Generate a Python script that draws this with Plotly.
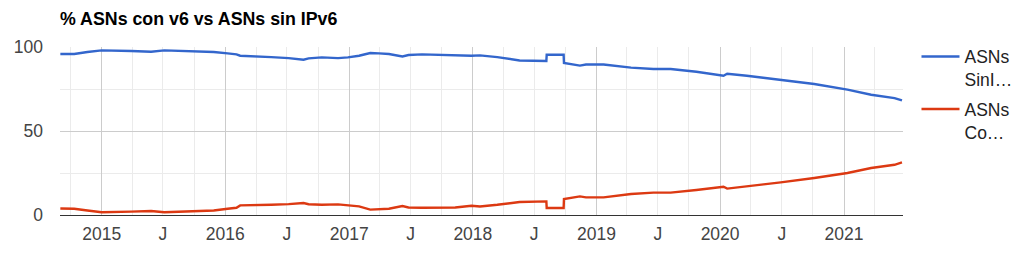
import plotly.graph_objects as go

dates_sin = ["2014-09-01","2014-10-12","2014-11-20","2015-01-01","2015-03-29","2015-05-27","2015-07-05",
             "2015-10-01","2015-11-28","2016-01-08","2016-02-03","2016-02-14","2016-03-29","2016-05-16",
             "2016-07-06","2016-08-19","2016-09-03","2016-10-12","2016-11-29","2016-12-28","2017-01-30",
             "2017-03-04","2017-03-30","2017-04-28","2017-06-07","2017-06-25","2017-08-04","2017-09-20",
             "2017-11-10","2017-12-28","2018-01-22","2018-03-14","2018-05-19","2018-08-06","2018-08-07",
             "2018-09-26","2018-09-27","2018-11-13","2018-12-01","2019-01-22","2019-04-13","2019-06-18",
             "2019-08-08","2019-10-23","2020-01-11","2020-01-22","2020-03-20","2020-06-28","2020-10-05",
             "2021-01-11","2021-03-22","2021-05-30","2021-06-21"]
asns_sin = [95.8, 95.8, 97.0, 98.0, 97.6, 97.2, 98.0,
            97.6, 97.0, 96.2, 95.6, 94.8, 94.6, 94.0,
            93.4, 92.4, 93.2, 93.8, 93.4, 93.8, 94.8,
            96.4, 96.2, 95.8, 94.4, 95.2, 95.6, 95.2,
            95.2, 94.8, 95.0, 94.0, 92.0, 91.7, 95.4,
            95.4, 90.5, 88.9, 89.6, 89.6, 87.7, 86.9,
            86.9, 85.3, 82.9, 84.1, 82.9, 80.5, 78.0,
            74.6, 71.6, 69.6, 68.2]
asns_con = [3.9, 3.7, 2.7, 1.6, 2.0, 2.4, 1.6,
            2.0, 2.7, 3.7, 4.3, 5.7, 5.8, 6.1,
            6.5, 7.1, 6.4, 6.1, 6.3, 5.9, 5.1,
            3.2, 3.4, 3.7, 5.3, 4.5, 4.3, 4.5,
            4.5, 5.5, 5.1, 6.1, 7.7, 8.1, 4.2,
            4.2, 9.5, 11.1, 10.5, 10.5, 12.5, 13.3,
            13.3, 14.9, 16.8, 15.7, 17.0, 19.4, 22.0,
            25.0, 28.0, 29.9, 31.3]

tick_dates = ["2015-01-01","2015-07-01","2016-01-01","2016-07-01","2017-01-01","2017-07-01",
              "2018-01-01","2018-07-01","2019-01-01","2019-07-01","2020-01-01","2020-07-01","2021-01-01"]
tick_text = ["2015","J","2016","J","2017","J","2018","J","2019","J","2020","J","2021"]
year_dates = ["2015-01-01","2016-01-01","2017-01-01","2018-01-01","2019-01-01","2020-01-01","2021-01-01"]
x_range = ["2014-08-31","2021-06-24"]

FONT = "Arial, 'Liberation Sans', sans-serif"
FS = 17.5

fig = go.Figure()
fig.add_trace(go.Scatter(x=dates_sin, y=asns_sin, mode="lines", name="ASNs<br>SinI…",
                         line=dict(color="#3366cc", width=2.4), legendgroup="a"))
fig.add_trace(go.Scatter(x=dates_sin, y=asns_con, mode="lines", name="ASNs<br>Co…",
                         line=dict(color="#dc3912", width=2.4), legendgroup="b"))
fig.add_trace(go.Scatter(x=x_range, y=[None, None], xaxis="x2", showlegend=False, hoverinfo="skip"))

fig.update_layout(
    width=1024, height=254,
    margin=dict(l=60, r=121, t=47, b=39, autoexpand=False),
    paper_bgcolor="white", plot_bgcolor="white",
    font=dict(family=FONT, size=FS, color="#444"),
    title=dict(text="<b>% ASNs con v6 vs ASNs sin IPv6</b>", x=60/1024, xanchor="left",
               y=1 - 19/254, yanchor="middle", font=dict(family=FONT, size=17.8, color="#000")),
    xaxis=dict(type="date", range=x_range, tickvals=tick_dates, ticktext=tick_text, automargin=False,
               showgrid=True, gridcolor="#ebebeb", gridwidth=1, showline=False, zeroline=False,
               ticks="", ticklabelstandoff=6, tickfont=dict(size=FS, color="#444"),
               minor=dict(dtick="M3", tick0="2015-01-01", showgrid=True, gridcolor="#ebebeb", gridwidth=1)),
    xaxis2=dict(type="date", overlaying="x", matches="x", range=x_range, tickvals=year_dates,
                automargin=False,
                showticklabels=False, showgrid=True, gridcolor="#cccccc", gridwidth=1,
                zeroline=False, showline=False, ticks=""),
    yaxis=dict(range=[0, 100], tickvals=[0, 50, 100], showgrid=True, gridcolor="#cccccc", automargin=False,
               zeroline=True, zerolinecolor="#333333", zerolinewidth=1.3, showline=False,
               ticks="", ticklabelstandoff=16, tickfont=dict(size=FS, color="#444"),
               minor=dict(tickvals=[25, 75], showgrid=True, gridcolor="#ebebeb", gridwidth=1)),
    legend=dict(x=1.016, xanchor="left", y=1.05, yanchor="top", valign="top", itemwidth=38,
                font=dict(family=FONT, size=FS, color="#222"), tracegroupgap=4,
                bgcolor="rgba(0,0,0,0)"),
    showlegend=True,
)

fig.write_html("out.html")
